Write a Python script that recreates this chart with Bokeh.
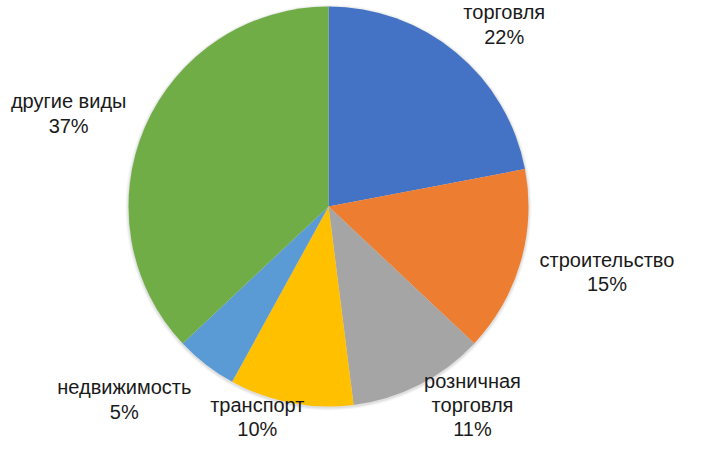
import math
from bokeh.plotting import figure
from bokeh.models import Range1d, ColumnDataSource
from bokeh.core.properties import value
from bokeh.embed import file_html
from bokeh.resources import INLINE

# ---- data ----
categories = ["торговля", "строительство", "розничная\nторговля", "транспорт", "недвижимость", "другие виды"]
shares = [22, 15, 11, 10, 5, 37]
colors = ["#4472C4", "#ED7D31", "#A5A5A5", "#FFC000", "#5B9BD5", "#70AD47"]

# ---- layout (x right, y = 458 - pixel row) ----
W, H = 697, 442
CX, CY, R = 328, 252, 200
# label centre points: (distance from centre, angle clockwise from top in degrees)
label_polar = [(253, 44.0), (286, 103.2), (245, 144.0), (222, 198.7), (281, 226.6), (276, 289.7)]

total = sum(shares)
starts, ends = [], []
cum = 0.0
for v in shares:
    starts.append(math.pi / 2 - 2 * math.pi * cum / total)
    cum += v
    ends.append(math.pi / 2 - 2 * math.pi * cum / total)

src = ColumnDataSource(dict(
    x=[CX] * len(shares), y=[CY] * len(shares),
    start=starts, end=ends, color=colors,
))

p = figure(width=W, height=H, output_backend="svg", toolbar_location=None,
           x_range=Range1d(0, W), y_range=Range1d(458 - H, 458),
           min_border=0, outline_line_color=None)
p.axis.visible = False
p.grid.visible = False

# soft shadow
for i, a in enumerate([0.05, 0.04, 0.03]):
    p.circle(x=[CX], y=[CY - 1], radius=R + 1 + i, fill_color="#000000",
             fill_alpha=a, line_color=None)

p.wedge(x="x", y="y", radius=R, start_angle="start", end_angle="end",
        direction="clock", fill_color="color", line_color=None, source=src)

lx, ly, lt = [], [], []
for cat, v, (d, ang) in zip(categories, shares, label_polar):
    t = math.radians(ang)
    lx.append(CX + d * math.sin(t))
    ly.append(CY + d * math.cos(t))
    lt.append(f"{cat}\n{v}%")

p.text(x=lx, y=ly, text=lt, text_align="center", text_baseline="middle",
       text_font=value("Liberation Sans"), text_font_size="20px",
       text_color="#1a1a1a", text_line_height=1.1)

open("out.html", "w").write(file_html(p, INLINE))
